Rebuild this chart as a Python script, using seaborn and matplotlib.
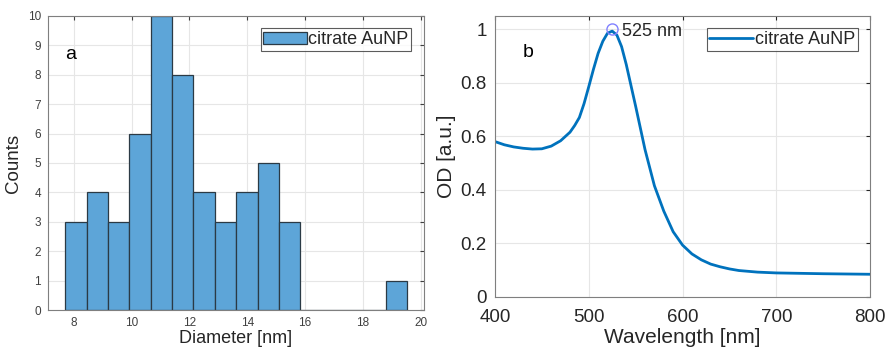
import numpy as np
import pandas as pd
import matplotlib
matplotlib.use("Agg")
import matplotlib.pyplot as plt
import seaborn as sns

# ---------------- data ----------------
bin_edges = [7.70, 8.44, 9.18, 9.92, 10.66, 11.40, 12.14, 12.88, 13.62,
             14.36, 15.10, 15.84, 16.58, 17.32, 18.06, 18.80, 19.54]
counts = [3, 4, 3, 6, 10, 8, 4, 3, 4, 5, 3, 0, 0, 0, 0, 1]

wavelength = [400, 410, 420, 430, 440, 450, 460, 470, 480, 485, 490, 495, 500,
              505, 510, 515, 520, 525, 530, 535, 540, 550, 560, 570, 580, 590,
              600, 610, 620, 630, 640, 650, 660, 680, 700, 750, 800]
od = [0.580, 0.568, 0.560, 0.555, 0.552, 0.553, 0.563, 0.583, 0.615, 0.640,
      0.670, 0.722, 0.785, 0.850, 0.910, 0.955, 0.985, 0.993, 0.978, 0.935,
      0.868, 0.712, 0.550, 0.415, 0.320, 0.243, 0.193, 0.160, 0.138, 0.122,
      0.112, 0.104, 0.098, 0.092, 0.089, 0.086, 0.084]

peak_wl = 525
peak_od = 1.0
x_ticks_a = [8, 10, 12, 14, 16, 18, 20]
y_ticks_a = list(range(0, 11))
x_ticks_b = [400, 500, 600, 700, 800]
y_ticks_b = [0, 0.2, 0.4, 0.6, 0.8, 1.0]
y_ticklabels_b = ["0", "0.2", "0.4", "0.6", "0.8", "1"]
series_name = "citrate AuNP"

# ---------------- style ----------------
sns.set_style("white")
plt.rcParams["font.family"] = ["Liberation Sans", "DejaVu Sans"]

txt = "#262626"
grid_c = "#e6e6e6"
spine_c = "#7f7f7f"

fig = plt.figure(figsize=(8.87, 3.52), dpi=100)
ax1 = fig.add_axes([0.054, 0.119, 0.424, 0.836])
ax2 = fig.add_axes([0.558, 0.157, 0.423, 0.798])

# ---------------- histogram ----------------
centers = [(bin_edges[i] + bin_edges[i + 1]) / 2 for i in range(len(counts))]
dfh = pd.DataFrame({"Diameter": centers, "Counts": counts})
sns.histplot(data=dfh, x="Diameter", weights="Counts", bins=bin_edges, ax=ax1,
             color="#5DA5D8", alpha=1.0, edgecolor="#2b3a45", linewidth=0.9,
             label=series_name)
ax1.set_xlim(7.1, 20.12)
ax1.set_ylim(0, 10)
ax1.set_xticks(x_ticks_a)
ax1.set_yticks(y_ticks_a)
ax1.set_xlabel("Diameter [nm]", fontsize=13, color=txt, labelpad=1)
ax1.set_ylabel("Counts", fontsize=13.5, color=txt, labelpad=4)
ax1.tick_params(axis="both", labelsize=8.5, colors="#404040", direction="in",
                length=3, top=True, right=True, pad=5)
ax1.grid(True, color=grid_c, linewidth=0.8)
ax1.set_axisbelow(True)
ax1.text(0.045, 0.87, "a", transform=ax1.transAxes, fontsize=14, color="black",
         va="center", ha="left")
leg1 = ax1.legend(loc="upper right", fontsize=13, frameon=True, fancybox=False,
                  borderpad=0.15, handlelength=2.4, handletextpad=0.1,
                  borderaxespad=0.7)
leg1.get_frame().set_edgecolor("#333333")
leg1.get_frame().set_linewidth(0.8)

# ---------------- spectrum ----------------
dfs = pd.DataFrame({"Wavelength": wavelength, "OD": od})
sns.lineplot(data=dfs, x="Wavelength", y="OD", ax=ax2, color="#0072BD",
             linewidth=2.0, label=series_name)
ax2.plot([peak_wl], [peak_od], marker="o", markersize=8, markerfacecolor="none",
         markeredgecolor="#8080ff", linestyle="none")
ax2.text(peak_wl + 10, peak_od - 0.01, f"{peak_wl} nm", fontsize=13, color=txt,
         va="center", ha="left")
ax2.set_xlim(400, 800)
ax2.set_ylim(0, 1.05)
ax2.set_xticks(x_ticks_b)
ax2.set_yticks(y_ticks_b)
ax2.set_yticklabels(y_ticklabels_b)
ax2.set_xlabel("Wavelength [nm]", fontsize=15, color=txt, labelpad=1)
ax2.set_ylabel("OD [a.u.]", fontsize=15, color=txt, labelpad=3)
ax2.tick_params(axis="both", labelsize=13.5, colors=txt, direction="in",
                length=3, top=True, right=True)
ax2.tick_params(axis="x", pad=9)
ax2.tick_params(axis="y", pad=6)
ax2.grid(True, color=grid_c, linewidth=0.8)
ax2.set_axisbelow(True)
ax2.text(0.075, 0.87, "b", transform=ax2.transAxes, fontsize=14, color="black",
         va="center", ha="left")
leg2 = ax2.legend(loc="upper right", fontsize=13, frameon=True, fancybox=False,
                  borderpad=0.15, handlelength=2.4, handletextpad=0.1,
                  borderaxespad=0.7)
leg2.get_frame().set_edgecolor("#333333")
leg2.get_frame().set_linewidth(0.8)

for ax in (ax1, ax2):
    for s in ax.spines.values():
        s.set_color(spine_c)
        s.set_linewidth(0.8)
        s.set_visible(True)
    for t in ax.get_xticklines() + ax.get_yticklines():
        t.set_color(spine_c)

fig.savefig("out.png", dpi=100)
